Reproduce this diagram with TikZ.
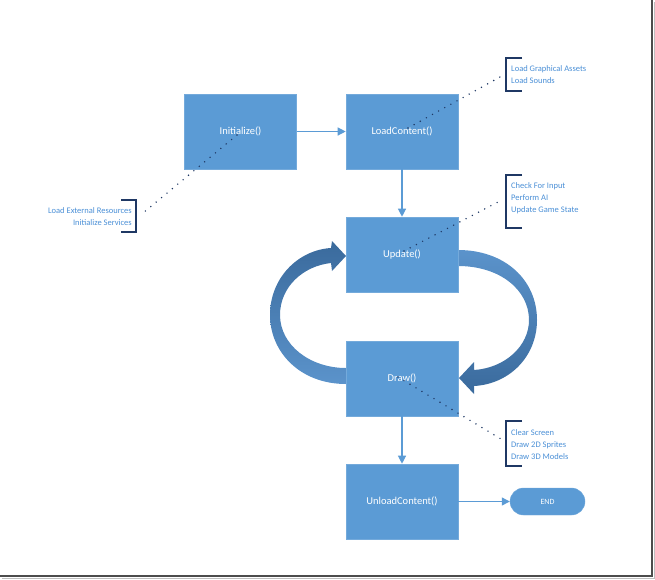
\documentclass[tikz,border=0pt]{standalone}
\usepackage{fontspec}
\setmainfont{Carlito}
\usetikzlibrary{arrows.meta,shapes.misc}
\definecolor{boxblue}{HTML}{5B9BD5}
\definecolor{navy}{HTML}{1F3864}
\definecolor{txtblue}{HTML}{4A8FD6}
\definecolor{ribdark}{HTML}{3A6A9C}
\definecolor{riblight}{HTML}{5B93CB}
\tikzset{
  stepbox/.style={fill=boxblue, draw=boxblue!85!white, line width=0.6pt, minimum width=112pt, minimum height=75pt, inner sep=0pt, text=white, font=\fontsize{10.5}{12}\selectfont},
  endbox/.style={rounded rectangle, fill=boxblue, draw=boxblue!85!white, minimum width=75pt, minimum height=27pt, inner sep=0pt, text=white, font=\fontsize{8}{10}\selectfont},
  flow/.style={draw=boxblue, line width=1.2pt, -{Triangle[length=8pt,width=8pt]}},
  note/.style={text=txtblue, font=\fontsize{8.5}{12}\selectfont, inner sep=0pt},
  dots/.style={draw=navy, line width=1.6pt, line cap=round, dash pattern=on 0pt off 7pt},
  brack/.style={draw=navy, line width=1.4pt}
}
\begin{document}
\begin{tikzpicture}[x=1pt,y=-1pt]
\useasboundingbox (0,0) rectangle (655,579);
% frame
\draw[line width=2pt, black!70] (652,0) -- (652,575.5) -- (0,575.5);
\draw[line width=1pt, black!25] (654.5,2) -- (654.5,578) -- (2,578);

% curved arrows
\shade[top color=ribdark, bottom color=riblight]
  (346,384) .. controls (300,384) and (270,352) .. (270,315)
  .. controls (270,278) and (298,250) .. (331,248)
  -- (332,241) -- (346,256) -- (332,271) -- (331,263)
  .. controls (303,266) and (280,287) .. (280,315)
  .. controls (280,345) and (310,368) .. (346,368) -- cycle;
\shade[top color=riblight, bottom color=ribdark]
  (458,250) .. controls (505,250) and (537,280) .. (537,320)
  .. controls (537,356) and (510,384) .. (474,386)
  -- (474,394) -- (459,378) -- (474,362) -- (474,370)
  .. controls (505,368) and (529,346) .. (529,320)
  .. controls (529,290) and (500,266) .. (458,266) -- cycle;

% boxes
\node[stepbox] (init) at (240.5,131.5) {Initialize()};
\node[stepbox] (load) at (402,131.5) {LoadContent()};
\node[stepbox] (upd) at (402,254.5) {Update()};
\node[stepbox] (drw) at (402,378.5) {Draw()};
\node[stepbox] (unl) at (402,501.5) {UnloadContent()};
\node[endbox] (end) at (547.5,501.5) {END};

% flow arrows
\draw[flow] (init.east) -- (load.west);
\draw[flow] (load.south) -- (upd.north);
\draw[flow] (drw.south) -- (unl.north);
\draw[flow] (unl.east) -- (end.west);

% callout texts
\node[note, anchor=east, align=right] (n1) at (132,217) {Load External Resources\\Initialize Services};
\node[note, anchor=west, align=left] (n2) at (511,75) {Load Graphical Assets\\Load Sounds};
\node[note, anchor=west, align=left] (n3) at (511,198) {Check For Input\\Perform AI\\Update Game State};
\node[note, anchor=west, align=left] (n4) at (511,444.5) {Clear Screen\\Draw 2D Sprites\\Draw 3D Models};

% brackets
\draw[brack] (121,200) -- (136,200) -- (136,232) -- (121,232);
\draw[brack] (522,58) -- (506,58) -- (506,91) -- (522,91);
\draw[brack] (522,175) -- (506,175) -- (506,228) -- (522,228);
\draw[brack] (522,421) -- (506,421) -- (506,466) -- (522,466);

% dotted leaders
\coordinate (d1a) at (237,135);
\coordinate (d1b) at (143,213);
\coordinate (d2a) at (408,128);
\coordinate (d2b) at (500,77);
\coordinate (d3a) at (404,251);
\coordinate (d3b) at (500,201);
\coordinate (d4a) at (398,377);
\coordinate (d4b) at (501,439);
\draw[dots] (d1a) -- (d1b);
\draw[dots] (d2a) -- (d2b);
\draw[dots] (d3a) -- (d3b);
\draw[dots] (d4a) -- (d4b);
\end{tikzpicture}
\end{document}
